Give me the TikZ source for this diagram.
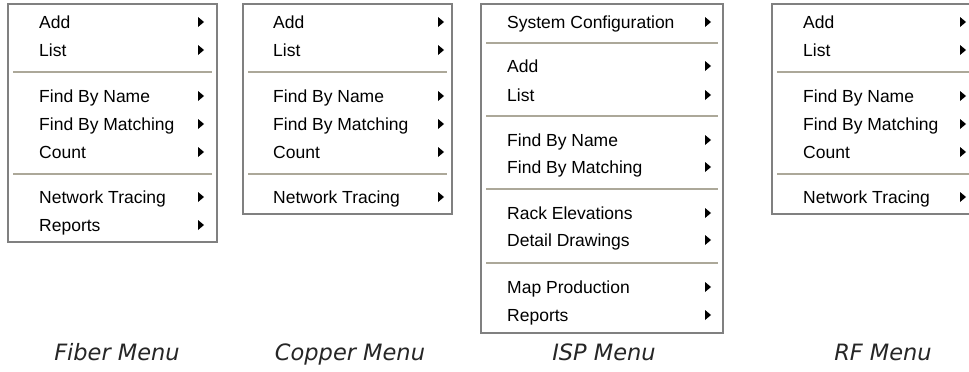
\documentclass[tikz,border=0pt]{standalone}
\usepackage{fontspec}
\setmainfont{Liberation Sans}
\newfontfamily\capfont{DejaVu Sans}
\definecolor{bordergray}{HTML}{808080}
\definecolor{sepgray}{HTML}{ACA899}
\tikzset{
  menubox/.style={draw=bordergray, line width=1.4pt, fill=white},
  itemtext/.style={anchor=base west, inner sep=0pt, font=\fontsize{17.5}{20}\selectfont, text=black},
  captiontext/.style={anchor=base, inner sep=0pt, font=\capfont\itshape\fontsize{22.5}{26}\selectfont, text=black!85},
  sepline/.style={draw=sepgray, line width=1.2pt},
  seplight/.style={draw=white, line width=1pt},
}
\newcommand\mitem[5]{%
  \node[itemtext] (#1) at ({#2},{#4+6.2}) {#5};
  \fill[black] ({#3-3},{#4-5}) -- ({#3+3},{#4}) -- ({#3-3},{#4+5}) -- cycle;}
\newcommand\msep[3]{%
  \draw[sepline] ({#1},{#3}) -- ({#2},{#3});
  \draw[seplight] ({#1},{#3+1.2}) -- ({#2},{#3+1.2});}
\begin{document}
\begin{tikzpicture}[x=1pt,y=-1pt]
\clip (0,0) rectangle (969,372);
\fill[white] (0,0) rectangle (969,372);

% Fiber menu
\draw[menubox] (8,4) rectangle (217,242);
\mitem{fa}{39}{201}{22}{Add}
\mitem{fl}{39}{201}{50}{List}
\msep{13}{212}{72}
\mitem{ffn}{39}{201}{96}{Find By Name}
\mitem{ffm}{39}{201}{124}{Find By Matching}
\mitem{fc}{39}{201}{152}{Count}
\msep{13}{212}{174}
\mitem{fnt}{39}{201}{197}{Network Tracing}
\mitem{fr}{39}{201}{225}{Reports}

% Copper menu
\draw[menubox] (243,4) rectangle (452,214);
\mitem{ca}{273}{441}{22}{Add}
\mitem{cl}{273}{441}{50}{List}
\msep{248}{447}{72}
\mitem{cfn}{273}{441}{96}{Find By Name}
\mitem{cfm}{273}{441}{124}{Find By Matching}
\mitem{cc}{273}{441}{152}{Count}
\msep{248}{447}{174}
\mitem{cnt}{273}{441}{197}{Network Tracing}

% ISP menu
\draw[menubox] (481,4) rectangle (723,333);
\mitem{isc}{507}{708}{22}{System Configuration}
\msep{486}{718}{43}
\mitem{ia}{507}{708}{66}{Add}
\mitem{il}{507}{708}{95}{List}
\msep{486}{718}{116}
\mitem{ifn}{507}{708}{140}{Find By Name}
\mitem{ifm}{507}{708}{167}{Find By Matching}
\msep{486}{718}{189}
\mitem{ire}{507}{708}{213}{Rack Elevations}
\mitem{idd}{507}{708}{240}{Detail Drawings}
\msep{486}{718}{263}
\mitem{imp}{507}{708}{287}{Map Production}
\mitem{ir}{507}{708}{315}{Reports}

% RF menu
\draw[menubox] (772,4) rectangle (981,214);
\mitem{ra}{803}{963}{22}{Add}
\mitem{rl}{803}{963}{50}{List}
\msep{777}{976}{72}
\mitem{rfn}{803}{963}{96}{Find By Name}
\mitem{rfm}{803}{963}{124}{Find By Matching}
\mitem{rc}{803}{963}{152}{Count}
\msep{777}{976}{174}
\mitem{rnt}{803}{963}{197}{Network Tracing}

% captions
\node[captiontext] (capf) at (117,360) {Fiber Menu};
\node[captiontext] (capc) at (350,360) {Copper Menu};
\node[captiontext] (capi) at (604,360) {ISP Menu};
\node[captiontext] (capr) at (883,360) {RF Menu};
\end{tikzpicture}
\end{document}
